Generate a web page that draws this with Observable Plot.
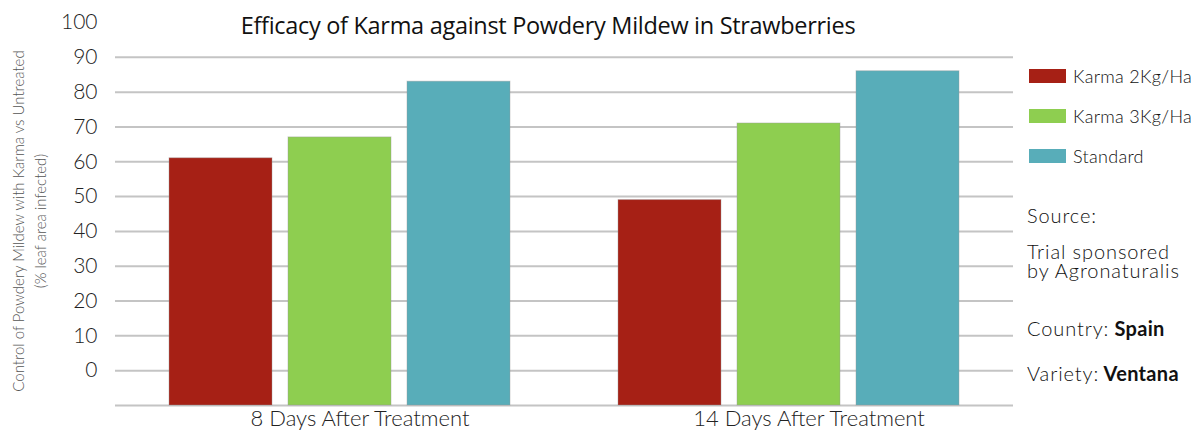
<!DOCTYPE html>
<html>
<head>
<meta charset="utf-8">
<script src="https://cdn.jsdelivr.net/npm/d3@7"></script>
<script src="https://cdn.jsdelivr.net/npm/@observablehq/plot@0.6"></script>
<style>
  body { margin: 0; background: #fff; }
  #wrap { position: relative; width: 1203px; height: 435px; overflow: hidden; font-family: Lato, "Open Sans", sans-serif; }
  #chart { position: absolute; left: 0; top: 0; }
  .abs { position: absolute; white-space: nowrap; }
  #title { left: 0; width: 1096px; top: 9px; text-align: center; font-family: "Open Sans", sans-serif; font-size: 23.5px; letter-spacing: -0.3px; color: #111; }
  #ylab { left: 29px; top: 221px; width: 420px; transform: translate(-50%, -50%) rotate(-90deg); text-align: center; font-size: 15px; font-weight: 300; color: #555; line-height: 22px; }
  .leg { left: 1029px; font-size: 18px; font-weight: 300; letter-spacing: 0.3px; color: #111; display: flex; align-items: center; }
  .sw { width: 37px; height: 14px; margin-right: 7px; }
  .side { left: 1027px; font-size: 20px; font-weight: 300; letter-spacing: 0.9px; color: #111; line-height: 19px; }
  .side b { font-weight: 700; letter-spacing: 0.3px; }
</style>
</head>
<body>
<div id="wrap">
  <div id="chart"></div>
  <div id="title" class="abs">Efficacy of Karma against Powdery Mildew in Strawberries</div>
  <div id="ylab" class="abs">Control of Powdery Mildew with Karma vs Untreated<br>(% leaf area infected)</div>
  <div id="legend"></div>
  <div id="side"></div>
</div>
<script>
const groups = ["8 Days After Treatment", "14 Days After Treatment"];
const series = ["Karma 2Kg/Ha", "Karma 3Kg/Ha", "Standard"];
const karma2 = [61, 49];
const karma3 = [67, 71];
const standard = [83, 86];
const colors = ["#a62015", "#8ece50", "#58adb9"];
const yTicks = [0, 10, 20, 30, 40, 50, 60, 70, 80, 90, 100];
const gridLines = [-10, 0, 10, 20, 30, 40, 50, 60, 70, 80, 90];
const yMin = -10, yMax = 100;
const sideNotes = [
  {html: "Source:", top: 206},
  {html: "Trial sponsored", top: 242},
  {html: "by Agronaturalis", top: 261},
  {html: "Country:<b> Spain</b>", top: 319},
  {html: "Variety:<b> Ventana</b>", top: 364}
];

const valuesBySeries = [karma2, karma3, standard];
const data = groups.flatMap((g, i) => series.map((s, j) => ({group: g, series: s, value: valuesBySeries[j][i]})));

const chart = Plot.plot({
  width: 1203,
  height: 435,
  marginLeft: 115,
  marginRight: 190,
  marginTop: 22,
  marginBottom: 30,
  style: {fontFamily: "Lato, 'Open Sans', sans-serif", background: "transparent"},
  fx: {domain: groups, padding: 0},
  x: {domain: series, paddingInner: 0.133, paddingOuter: 0.4375, axis: null},
  y: {domain: [yMin, yMax]},
  color: {domain: series, range: colors},
  marks: [
    Plot.ruleY(gridLines, {stroke: "#c4c4c4", strokeWidth: 2}),
    Plot.barY(data, {fx: "group", x: "series", y1: yMin, y2: "value", fill: "series", stroke: "#999", strokeOpacity: 0.4, strokeWidth: 1}),
    Plot.axisY(yTicks, {tickSize: 0, tickPadding: 18, fontSize: 21, fontWeight: 300, fill: "#222", label: null}),
    Plot.axisFx({anchor: "bottom", tickSize: 0, tickPadding: 5, fontSize: 22, fontWeight: 300, fill: "#222", label: null, dx: 20})
  ]
});
document.getElementById("chart").appendChild(chart);

const legend = document.getElementById("legend");
series.forEach((s, i) => {
  const d = document.createElement("div");
  d.className = "abs leg";
  d.style.top = (65 + i * 40) + "px";
  d.innerHTML = `<span class="sw" style="background:${colors[i]}"></span><span>${s}</span>`;
  legend.appendChild(d);
});
const side = document.getElementById("side");
sideNotes.forEach(n => {
  const d = document.createElement("div");
  d.className = "abs side";
  d.style.top = n.top + "px";
  d.innerHTML = n.html;
  side.appendChild(d);
});
</script>
</body>
</html>
